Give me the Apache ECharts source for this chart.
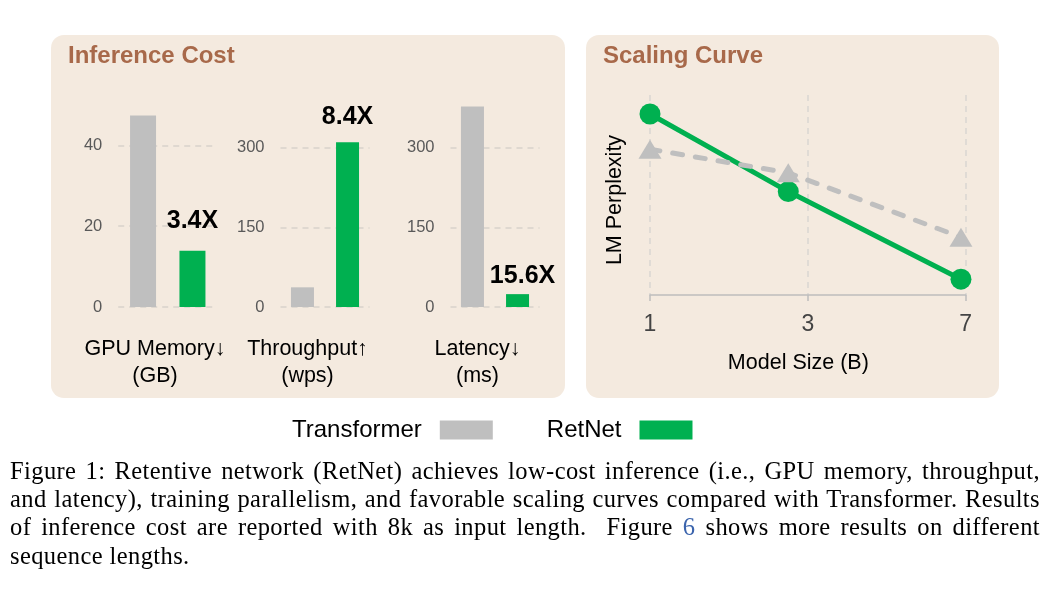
<!DOCTYPE html>
<html><head><meta charset="utf-8">
<script src="https://cdn.jsdelivr.net/npm/echarts@6/dist/echarts.min.js"></script>
<style>
html,body{margin:0;padding:0;background:#fff;}
#chart{position:absolute;left:0;top:0;width:1049px;height:600px;}
#caption{position:absolute;left:10px;top:457px;width:1030px;font-family:'Liberation Serif','Times New Roman',serif;font-size:24.5px;line-height:28.2px;letter-spacing:0.4px;color:#000;}
#caption div{text-align:justify;text-align-last:justify;white-space:normal;}
#caption div.last{text-align-last:left;}
#caption .ref{color:#3b64ad;}
</style></head><body>
<div id="chart"></div>
<div id="caption">
<div>Figure 1: Retentive network (RetNet) achieves low-cost inference (i.e., GPU memory, throughput,</div>
<div>and latency), training parallelism, and favorable scaling curves compared with Transformer. Results</div>
<div>of inference cost are reported with 8k as input length.&nbsp; Figure <span class="ref">6</span> shows more results on different</div>
<div class="last">sequence lengths.</div>
</div>
<script>
// ---- data ----
const seriesNames = ['Transformer', 'RetNet'];
const costMetrics = ['GPU Memory↓\n(GB)', 'Throughput↑\n(wps)', 'Latency↓\n(ms)'];
const transformerCost = [47.4, 37, 377];
const retnetCost = [13.9, 310, 24.2];
const speedupLabels = ['3.4X', '8.4X', '15.6X'];
const costTickInterval = [20, 150, 150];
const costAxisMax = [50, 380, 380];
const scaleTickLabels = ['1', '3', '7'];
const scaleXPos = [0, 0.876, 1.97];
const transformerPpl = [72.9, 61.1, 28.9];
const retnetPpl = [90.5, 51.7, 7.9];

// ---- style ----
const FONT = "'Liberation Sans', Arial, sans-serif";
const GRAY = '#bfbfbf', GREEN = '#00b050', PANEL = '#f4eadf', TITLE = '#a8694a';
const gridDefs = [
  {left: 118.25, width: 99, top: 105, height: 202},
  {left: 280.5, width: 89, top: 105, height: 202},
  {left: 450.5, width: 89, top: 105, height: 202}
];
const barWidths = [26, 23, 23];
const barGaps = ['90%', '96%', '96%'];
const labelShift = [25.5, 35, 35];
const speedDist = [17, 13, 6];
const speedOffset = [[0,0],[0,0],[5,0]];

const grids = gridDefs.map(g => Object.assign({containLabel: false}, g));
grids.push({left: 650, width: 315.7, top: 95, height: 200});

const xAxes = [], yAxes = [], series = [];
costMetrics.forEach((m, i) => {
  xAxes.push({
    type: 'category', gridIndex: i, data: [m],
    axisLine: {show: false}, axisTick: {show: false}, splitLine: {show: false},
    axisLabel: {fontFamily: FONT, fontSize: 21.5, color: '#000', lineHeight: 27, margin: 29,
      padding: [0, labelShift[i], 0, 0]}
  });
  yAxes.push({
    type: 'value', gridIndex: i, min: 0, max: costAxisMax[i], interval: costTickInterval[i],
    axisLine: {show: false}, axisTick: {show: false},
    axisLabel: {fontFamily: FONT, fontSize: 16.5, color: '#595959', margin: 16, showMaxLabel: false},
    splitLine: {show: true, showMaxLine: false, lineStyle: {color: '#d8d2cb', width: 1.5, type: [6, 5]}}
  });
  series.push({
    name: seriesNames[0], type: 'bar', xAxisIndex: i, yAxisIndex: i,
    data: [transformerCost[i]], barWidth: barWidths[i], barGap: barGaps[i],
    itemStyle: {color: GRAY}, silent: true
  });
  series.push({
    name: seriesNames[1], type: 'bar', xAxisIndex: i, yAxisIndex: i,
    data: [retnetCost[i]], barWidth: barWidths[i], barGap: barGaps[i],
    itemStyle: {color: GREEN}, silent: true,
    label: {show: true, position: 'top', distance: speedDist[i], offset: speedOffset[i],
      formatter: () => speedupLabels[i],
      fontFamily: FONT, fontSize: 25, fontWeight: 'bold', color: '#000'}
  });
});

xAxes.push({
  type: 'value', gridIndex: 3, min: 0, max: 2, interval: 1,
  axisLine: {show: true, lineStyle: {color: '#bdbdbd', width: 1.5}},
  axisTick: {show: true, length: 6, lineStyle: {color: '#bdbdbd', width: 1.5}},
  axisLabel: {fontFamily: FONT, fontSize: 23, color: '#444', margin: 18,
    formatter: v => scaleTickLabels[Math.round(v)]},
  splitLine: {show: true, lineStyle: {color: '#d9d6d2', width: 1.5, type: [6, 5]}},
  name: 'Model Size (B)', nameLocation: 'middle', nameGap: 57,
  nameTextStyle: {fontFamily: FONT, fontSize: 21.5, color: '#000', padding: [0, 19, 0, 0]}
});
yAxes.push({
  type: 'value', gridIndex: 3, min: 0, max: 100,
  axisLine: {show: false}, axisTick: {show: false}, axisLabel: {show: false}, splitLine: {show: false},
  name: 'LM Perplexity', nameLocation: 'middle', nameGap: 24,
  nameTextStyle: {fontFamily: FONT, fontSize: 21.5, color: '#000', padding: [0, 10, 0, 0]}
});
series.push({
  name: seriesNames[1], type: 'line', xAxisIndex: 3, yAxisIndex: 3, z: 3,
  data: scaleXPos.map((x, k) => [x, retnetPpl[k]]),
  lineStyle: {color: GREEN, width: 5}, itemStyle: {color: GREEN},
  symbol: 'circle', symbolSize: 21, showAllSymbol: true, silent: true
});
series.push({
  name: seriesNames[0], type: 'line', xAxisIndex: 3, yAxisIndex: 3, z: 4,
  data: scaleXPos.map((x, k) => [x, transformerPpl[k]]),
  lineStyle: {color: GRAY, width: 5, type: [10, 13], cap: 'round'}, itemStyle: {color: GRAY},
  symbol: 'triangle', symbolSize: [23, 19], showAllSymbol: true, silent: true
});

const chart = echarts.init(document.getElementById('chart'), null, {renderer: 'canvas'});
chart.setOption({
  animation: false,
  backgroundColor: '#ffffff',
  graphic: [
    {type: 'rect', z: -100, silent: true, shape: {x: 51, y: 35, width: 514, height: 363, r: 13}, style: {fill: PANEL}},
    {type: 'rect', z: -100, silent: true, shape: {x: 586, y: 35, width: 413, height: 363, r: 13}, style: {fill: PANEL}}
  ],
  title: [
    {text: 'Inference Cost', left: 68, top: 44, padding: 0, textStyle: {fontFamily: FONT, fontSize: 24, fontWeight: 'bold', color: TITLE}},
    {text: 'Scaling Curve', left: 603, top: 44, padding: 0, textStyle: {fontFamily: FONT, fontSize: 24, fontWeight: 'bold', color: TITLE}}
  ],
  legend: {
    data: [{name: 'Transformer', itemStyle: {color: GRAY}}, {name: 'RetNet', itemStyle: {color: GREEN}}],
    left: 292, top: 418, padding: 0, icon: 'rect', itemWidth: 53, itemHeight: 19, itemGap: 54,
    align: 'right', selectedMode: false,
    textStyle: {fontFamily: FONT, fontSize: 24, color: '#000', padding: [0, 13, 0, 0]}
  },
  grid: grids,
  xAxis: xAxes,
  yAxis: yAxes,
  series: series
});
</script>
</body></html>
